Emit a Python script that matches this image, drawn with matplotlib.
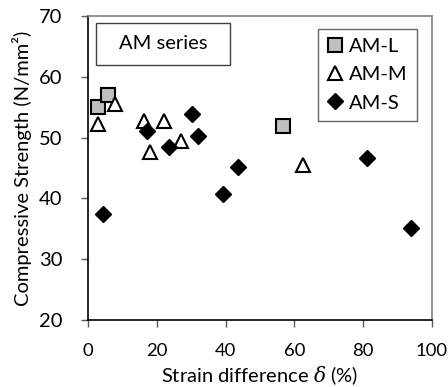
import matplotlib
matplotlib.use("Agg")
import matplotlib.pyplot as plt
from matplotlib.patches import Rectangle

plt.rcParams['font.family'] = ['Lato', 'DejaVu Sans']
plt.rcParams['mathtext.fontset'] = 'dejavuserif'

# strain difference (%) and compressive strength (N/mm2)
am_l_x = [3.0, 5.7, 56.6]
am_l_y = [55.0, 57.0, 51.9]
am_m_x = [3.0, 7.8, 16.3, 22.1, 18.0, 27.0, 62.6]
am_m_y = [52.3, 55.5, 52.8, 52.8, 47.7, 49.5, 45.5]
am_s_x = [4.5, 17.2, 23.5, 30.3, 32.1, 39.3, 43.7, 81.0, 93.8]
am_s_y = [37.5, 51.1, 48.5, 53.8, 50.3, 40.7, 45.1, 46.6, 35.2]

xticks = [0, 20, 40, 60, 80, 100]
yticks = [20, 30, 40, 50, 60, 70]

fs = 14.5

fig = plt.figure(figsize=(4.48, 3.87), dpi=100)
ax = fig.add_axes([0.1964, 0.1731, 0.7679, 0.7856])

ax.plot(am_l_x, am_l_y, 's', ms=10, mfc='#c0c0c0', mec='black', mew=1.5,
        ls='none', label='AM-L', zorder=3)
ax.plot(am_m_x, am_m_y, '^', ms=9.5, mfc='white', mec='black', mew=1.5,
        ls='none', label='AM-M', zorder=3)
ax.plot(am_s_x, am_s_y, 'D', ms=8.5, mfc='black', mec='black', mew=1,
        ls='none', label='AM-S', zorder=4)

ax.set_xlim(0, 100)
ax.set_ylim(20, 70)
ax.set_xticks(xticks)
ax.set_yticks(yticks)
ax.tick_params(direction='out', length=5, width=1, color='#595959')
ax.tick_params(axis='x', labelsize=13.3, pad=11.5)
ax.tick_params(axis='y', labelsize=14.5, pad=13.5)
for s in ['left', 'bottom']:
    ax.spines[s].set_color('black')
    ax.spines[s].set_linewidth(1.2)
for s in ['top', 'right']:
    ax.spines[s].set_color('#808080')
    ax.spines[s].set_linewidth(1.2)

ax.set_xlabel(r'Strain difference $\it{\delta}$ (%)', fontsize=fs, labelpad=4)
ax.set_ylabel('Compressive Strength (N/mm²)', fontsize=fs, labelpad=5)

ax.add_patch(Rectangle((0.023, 0.839), 0.39, 0.138, transform=ax.transAxes,
                       fill=False, ec='#404040', lw=1, zorder=5))
ax.text(0.218, 0.908, 'AM series', transform=ax.transAxes, fontsize=fs,
        ha='center', va='center')

leg = ax.legend(loc='upper right', bbox_to_anchor=(0.931, 0.925),
                bbox_transform=fig.transFigure, fontsize=fs, frameon=True,
                fancybox=False, handlelength=0.8, handletextpad=0.3,
                borderpad=0.45, labelspacing=0.55, borderaxespad=0)
leg.get_frame().set_edgecolor('#404040')
leg.get_frame().set_linewidth(1)

fig.savefig('out.png', dpi=100)
